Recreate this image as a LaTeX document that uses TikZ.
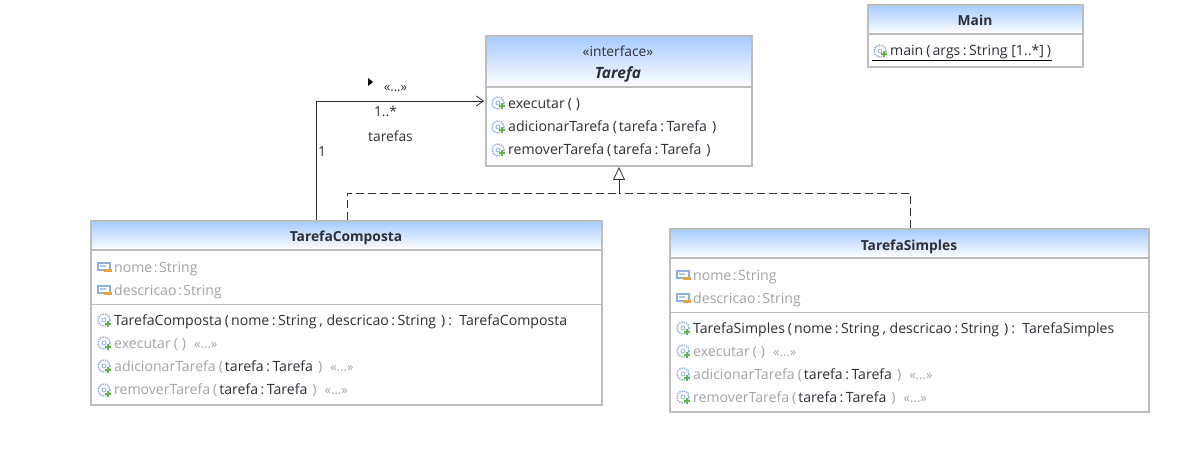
\documentclass[tikz,border=0pt]{standalone}
\usepackage{fontspec}
\setmainfont{Open Sans}
\usetikzlibrary{positioning, calc, arrows.meta}

\definecolor{headblue}{HTML}{A6CBFF}
\definecolor{boxgray}{HTML}{BDBDBD}
\definecolor{inkdark}{HTML}{2E2E36}
\definecolor{inkgray}{HTML}{A3A3A3}
\definecolor{iconblue}{HTML}{8FB2DC}
\definecolor{icongreen}{HTML}{5FB548}
\definecolor{iconorange}{HTML}{E8A33C}

\newcommand{\cl}{\kern2.5pt:\kern2.5pt}
\newcommand{\clt}{\kern1.5pt:\kern1.5pt}
\newcommand{\lp}{\kern3pt(\kern2pt}
\newcommand{\rp}{\kern5pt)}
\newcommand{\more}{\kern8pt{\fontsize{13}{15}\selectfont\color{inkgray}«...»}}
\newcommand{\dk}[1]{{\color{inkdark}#1}}

\tikzset{
    classbox/.style={draw=boxgray, line width=2pt, fill=white, anchor=north west, inner sep=0pt, outer sep=0pt},
    headbox/.style={draw=boxgray, line width=2pt, top color=headblue, bottom color=white, anchor=north west, inner sep=0pt, outer sep=0pt},
    titletext/.style={font=\fontsize{13.8}{16}\selectfont\bfseries, text=inkdark, inner sep=0pt, anchor=base},
    rowtext/.style={font=\fontsize{14.1}{16}\selectfont, text=inkdark, anchor=base west, inner sep=0pt},
    rowgray/.style={rowtext, text=inkgray},
    lbl/.style={font=\fontsize{13.8}{16}\selectfont, text=inkdark, inner sep=0pt, anchor=base},
    opicon/.pic={
        \draw[iconblue, densely dotted, line width=1.4pt] (0,0) circle (6pt);
        \draw[iconblue, line width=0.8pt] (0,0) circle (2pt);
        \fill[icongreen] (1,2.5) rectangle (7,4.5);
        \fill[icongreen] (3,0.5) rectangle (5,6.5);
    },
    attricon/.pic={
        \draw[iconblue, line width=1.2pt] (-6,-4) rectangle (6,3);
        \fill[iconblue!70] (-4,-2) rectangle (2,-0.5);
        \fill[iconorange] (0,2) rectangle (8,4.5);
    }
}

\begin{document}
\begin{tikzpicture}[x=1pt, y=-1pt, >=Stealth]

    \useasboundingbox (0,0) rectangle (1193,457);

    % ================= Tarefa =================
    \node[classbox, minimum width=266pt, minimum height=130pt] (tarefa) at (485.5,36) {};
    \node[headbox, minimum width=266pt, minimum height=51pt] (tarefaHead) at (485.5,36) {};
    \node[lbl] (tarefaStereo) at (618,57) {«interface»};
    \node[titletext, font=\fontsize{15.5}{18}\selectfont\bfseries\itshape] (tarefaName) at (618,79) {Tarefa};
    \pic at (498,103) {opicon};
    \pic at (498,127) {opicon};
    \pic at (498,150) {opicon};
    \node[rowtext] (tarefaExec) at (508,109) {executar\lp\kern2pt)};
    \node[rowtext] (tarefaAdd) at (508,132) {adicionarTarefa\lp tarefa\cl Tarefa\rp};
    \node[rowtext] (tarefaRem) at (508,155) {removerTarefa\lp tarefa\cl Tarefa\rp};

    % ================= Main =================
    \node[classbox, minimum width=215pt, minimum height=62pt] (main) at (867.5,5) {};
    \node[headbox, minimum width=215pt, minimum height=29pt] (mainHead) at (867.5,5) {};
    \node[titletext] (mainName) at (975,26) {Main};
    \pic at (880,51) {opicon};
    \node[rowtext] (mainOp) at (890,56) {main\lp args\cl String [1..*]\kern3pt)};
    \coordinate (mainLineA) at (872,60.5);
    \coordinate (mainLineB) at (1052,60.5);
    \draw[black, line width=1pt] (mainLineA) -- (mainLineB);

    % ================= TarefaComposta =================
    \node[classbox, minimum width=511pt, minimum height=184pt] (composta) at (91,221) {};
    \node[headbox, minimum width=511pt, minimum height=29pt] (compostaHead) at (91,221) {};
    \node[titletext] (compostaName) at (346,241) {TarefaComposta};
    \pic at (104,267) {attricon};
    \pic at (104,290) {attricon};
    \node[rowgray] (compostaNome) at (114,272) {nome\clt String};
    \node[rowgray] (compostaDesc) at (114,295) {descricao\clt String};
    \draw[boxgray, line width=0.8pt] (91,304) -- (602,304);
    \pic at (104,320) {opicon};
    \pic at (104,343) {opicon};
    \pic at (104,366) {opicon};
    \pic at (104,390) {opicon};
    \node[rowtext] (compostaCons) at (114,325) {TarefaComposta\lp nome\cl String\kern3pt, descricao\cl String\rp\kern3pt:\ \ TarefaComposta};
    \node[rowgray] (compostaExec) at (114,348) {executar\lp\kern2pt)\more};
    \node[rowgray] (compostaAdd) at (114,371) {adicionarTarefa\lp\dk{tarefa\cl Tarefa}\rp\more};
    \node[rowgray] (compostaRem) at (114,394) {removerTarefa\lp\dk{tarefa\cl Tarefa}\rp\more};

    % ================= TarefaSimples =================
    \node[classbox, minimum width=479pt, minimum height=183pt] (simples) at (670,229) {};
    \node[headbox, minimum width=479pt, minimum height=29pt] (simplesHead) at (670,229) {};
    \node[titletext] (simplesName) at (909,250) {TarefaSimples};
    \pic at (683,275) {attricon};
    \pic at (683,298) {attricon};
    \node[rowgray] (simplesNome) at (693,280) {nome\clt String};
    \node[rowgray] (simplesDesc) at (693,303) {descricao\clt String};
    \draw[boxgray, line width=0.8pt] (670,312) -- (1149,312);
    \pic at (683,328) {opicon};
    \pic at (683,351) {opicon};
    \pic at (683,374) {opicon};
    \pic at (683,397) {opicon};
    \node[rowtext] (simplesCons) at (693,333) {TarefaSimples\lp nome\cl String\kern3pt, descricao\cl String\rp\kern3pt:\ \ TarefaSimples};
    \node[rowgray] (simplesExec) at (693,356) {executar\lp\kern2pt)\more};
    \node[rowgray] (simplesAdd) at (693,379) {adicionarTarefa\lp\dk{tarefa\cl Tarefa}\rp\more};
    \node[rowgray] (simplesRem) at (693,402) {removerTarefa\lp\dk{tarefa\cl Tarefa}\rp\more};

    % ================= Association =================
    \coordinate (assocStart) at (316,220);
    \coordinate (assocEnd) at (484,101);
    \draw[->, >={Straight Barb[length=7pt,width=10pt]}, line width=0.8pt, inkdark] (assocStart) |- (assocEnd);
    \node[lbl] (assocOne) at (322,157) {1};
    \node[lbl] (assocMany) at (385.5,117) {1..*};
    \node[lbl] (assocRole) at (390.5,142) {tarefas};
    \node[lbl, font=\fontsize{13}{15}\selectfont] (assocMore) at (395.5,92) {«...»};
    \fill[black] (368,78) -- (373,82) -- (368,86) -- cycle;

    % ================= Realization =================
    \coordinate (realJoin) at (619,193);
    \coordinate (realLeft) at (347,220);
    \coordinate (realRight) at (910,228);
    \coordinate (realTip) at (619,167);
    \draw[dash pattern=on 8pt off 4pt, line width=0.8pt, inkdark] (realLeft) |- (realJoin);
    \draw[dash pattern=on 8pt off 4pt, line width=0.8pt, inkdark] (realRight) |- (realJoin);
    \draw[-{Triangle[open, length=13pt, width=12pt]}, line width=0.8pt, inkdark] (realJoin) -- (realTip);

\end{tikzpicture}
\end{document}
